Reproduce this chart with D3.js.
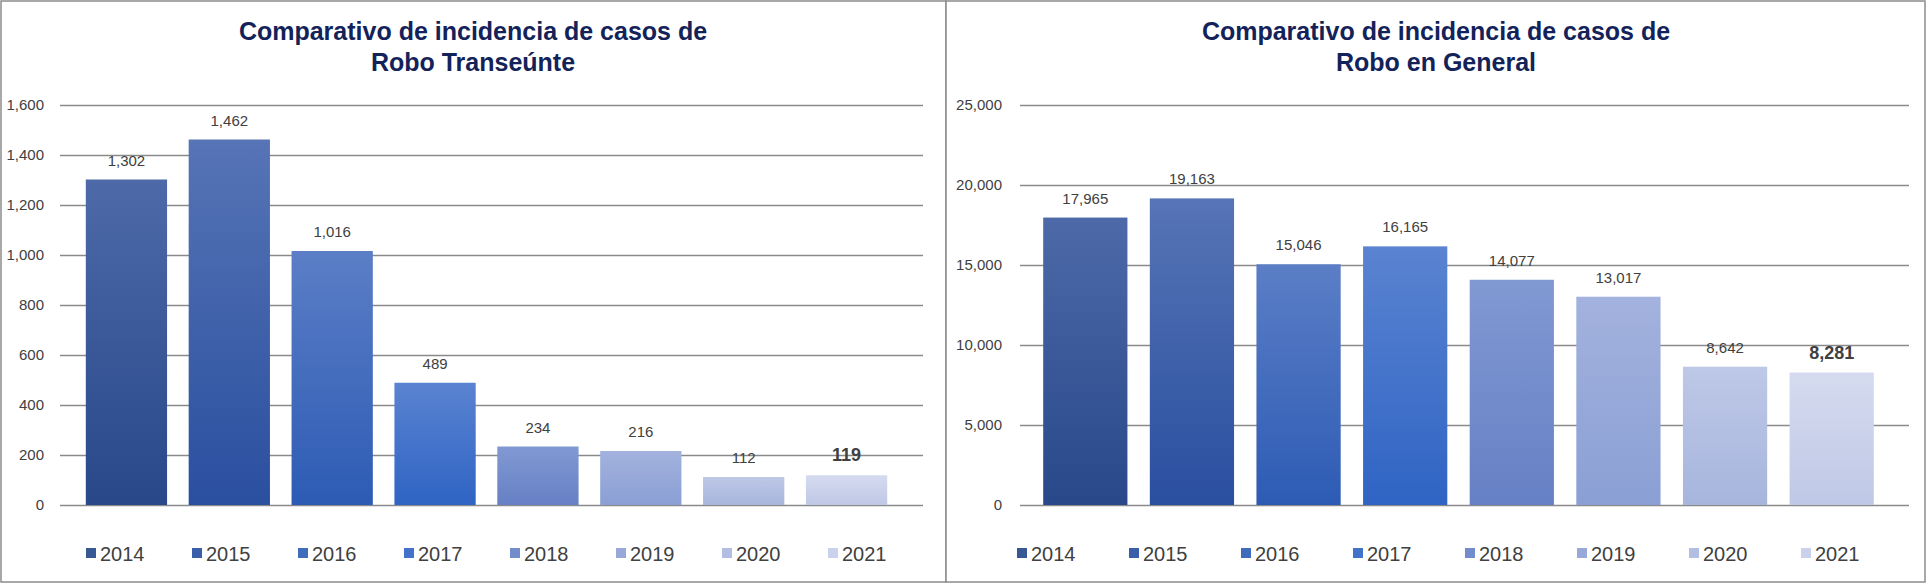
<!DOCTYPE html>
<html><head><meta charset="utf-8">
<script src="https://cdn.jsdelivr.net/npm/d3@7"></script>
<style>body{margin:0;background:#fff}svg{display:block}</style></head>
<body><svg id="c" width="1926" height="583"></svg>
<script>
const years = ["2014","2015","2016","2017","2018","2019","2020","2021"];
const transeunte = [1302,1462,1016,489,234,216,112,119];
const general = [17965,19163,15046,16165,14077,13017,8642,8281];
const ticksLeft = [0,200,400,600,800,1000,1200,1400,1600];
const ticksRight = [0,5000,10000,15000,20000,25000];
const topColors = ["#4d69a8","#5674b6","#5b7ec6","#5a83d1","#8199d3","#a3b2de","#bec8e7","#d5dbef"];
const botColors = ["#284889","#2a4f9f","#2d5bb4","#2f64c4","#6580c4","#8a9fd4","#a7b5dd","#bfc8e6"];
const midColors = ["#385894","#3b5eab","#406cbd","#4272ca","#738ccb","#97a8d9","#b2bee2","#cad1ec"];

const svg = d3.select("#c");
const defs = svg.append("defs");
years.forEach((y,i)=>{
  const g = defs.append("linearGradient").attr("id","g"+i).attr("x1",0).attr("y1",0).attr("x2",0).attr("y2",1);
  g.append("stop").attr("offset","0%").attr("stop-color",topColors[i]);
  g.append("stop").attr("offset","100%").attr("stop-color",botColors[i]);
});
const FONT = "'Liberation Sans Narrow','Arial Narrow',Arial,sans-serif";

function panel(o){
  const g = svg.append("g");
  g.append("rect").attr("x",o.bx).attr("y",1).attr("width",o.bw).attr("height",581)
    .attr("fill","#fff").attr("stroke","#8c8c8c").attr("stroke-width",1.5);
  o.title.forEach((t,i)=>g.append("text").attr("x",o.tx).attr("y",40+i*31)
    .attr("text-anchor","middle").attr("font-family",FONT).attr("font-weight","bold")
    .attr("font-size",25).attr("fill","#13235a").text(t));
  const y = d3.scaleLinear().domain([0,o.max]).range([505,105]);
  const x = d3.scaleBand().domain(years).range([o.x0,o.x1]).paddingInner(o.pad).paddingOuter(o.pad/2);
  const ax = g.append("g").attr("transform",`translate(${o.gx0},0)`)
    .call(d3.axisLeft(y).tickValues(o.ticks).tickSize(-(o.gx1-o.gx0)).tickPadding(o.tp).tickFormat(d3.format(",")));
  ax.select(".domain").remove();
  ax.selectAll(".tick line").attr("stroke","#8a8a8a").attr("stroke-width",1.3);
  ax.selectAll(".tick text").attr("font-family",FONT).attr("font-size",15).attr("fill","#404040");
  g.selectAll(".bar").data(o.vals).join("rect")
    .attr("x",(d,i)=>x(years[i])).attr("width",x.bandwidth())
    .attr("y",d=>y(d)).attr("height",d=>505-y(d)).attr("fill",(d,i)=>`url(#g${i})`);
  g.selectAll(".lbl").data(o.vals).join("text")
    .attr("x",(d,i)=>x(years[i])+x.bandwidth()/2).attr("y",d=>y(d)-o.lo)
    .attr("text-anchor","middle").attr("font-family",FONT)
    .attr("font-size",(d,i)=>i==7?18:15).attr("font-weight",(d,i)=>i==7?"bold":"normal")
    .attr("fill","#404040").text(d=>d3.format(",")(d));
  years.forEach((yr,i)=>{
    const lx = o.lx + i*o.ls;
    g.append("rect").attr("x",lx).attr("y",548).attr("width",10).attr("height",10).attr("fill",midColors[i]);
    g.append("text").attr("x",lx+14).attr("y",561).attr("font-family",FONT).attr("font-size",20)
      .attr("fill","#404040").text(yr);
  });
}
panel({bx:1,bw:945,tx:473,title:["Comparativo de incidencia de casos de","Robo Transeúnte"],
  max:1600,ticks:ticksLeft,x0:75,x1:898,pad:0.21,gx0:60,gx1:923,tp:16,vals:transeunte,lo:14,lx:86,ls:106});
panel({bx:946,bw:979,tx:1436,title:["Comparativo de incidencia de casos de","Robo en General"],
  max:25000,ticks:ticksRight,x0:1032,x1:1885,pad:0.21,gx0:1020,gx1:1909,tp:18,vals:general,lo:14,lx:1017,ls:112});
</script></body></html>
